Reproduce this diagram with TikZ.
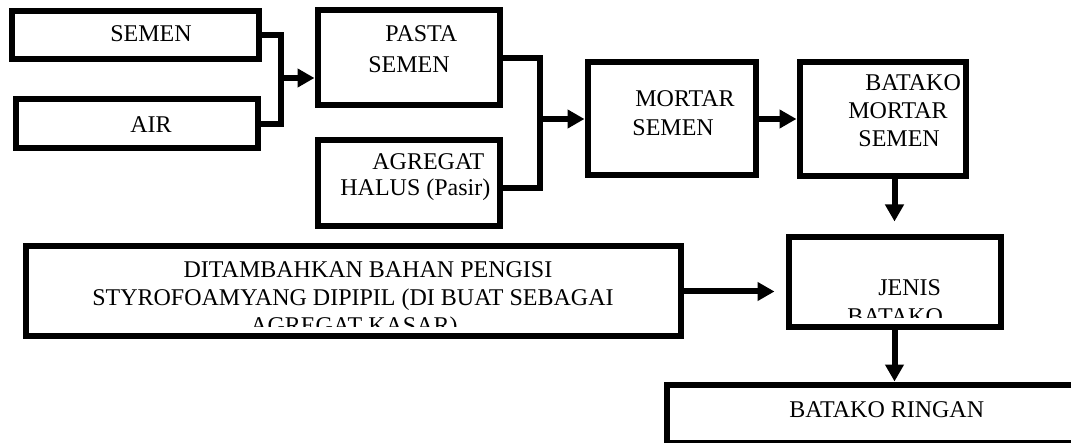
\documentclass[tikz,border=0pt]{standalone}
\usepackage{fontspec}
\setmainfont{Liberation Serif}
\usetikzlibrary{arrows.meta,positioning,calc}

\tikzset{
  box/.style={draw, line width=3pt, rectangle, inner sep=0pt},
  lbl/.style={inner sep=0pt, font=\fontsize{12}{14}\selectfont},
  link/.style={line width=3pt},
  flow/.style={line width=3pt, -{Triangle[length=8.5pt,width=9pt]}},
}

\begin{document}
\begin{tikzpicture}[x = .5pt, y = -.5pt]
  \clip (0,0) rectangle (1071,443);
  % boxes
  \node[box, minimum width=123.5pt, minimum height=24pt] (semen) at (135,35.5) {};
  \node[box, minimum width=121pt, minimum height=24.5pt] (air) at (136.5,124) {};
  \node[box, minimum width=91pt, minimum height=47.5pt] (pasta) at (408.5,58) {};
  \node[box, minimum width=91pt, minimum height=43pt] (agregat) at (408.5,183) {};
  \node[box, minimum width=84pt, minimum height=56.5pt] (mortar) at (671.5,119) {};
  \node[box, minimum width=83pt, minimum height=57pt] (batako) at (882.5,119.5) {};
  \node[box, minimum width=327.5pt, minimum height=45pt] (tambah) at (353,291.5) {};
  \node[box, minimum width=106pt, minimum height=45pt] (jenis) at (894.5,282.5) {};
  \node[box, minimum width=211.5pt, minimum height=29pt] (ringan) at (878,413.5) {};

  % texts
  \node[lbl, anchor=base west] (t-semen) at (110,42) {SEMEN};
  \node[lbl, anchor=base west] (t-air) at (130,133) {AIR};
  \node[lbl, anchor=base west] (t-pasta1) at (385,42) {PASTA};
  \node[lbl, anchor=base west] (t-pasta2) at (368,73) {SEMEN};
  \node[lbl, anchor=base west] (t-agregat1) at (372,170) {AGREGAT};
  \node[lbl, anchor=base west] (t-agregat2) at (340,196) {HALUS (Pasir)};
  \node[lbl, anchor=base west] (t-mortar1) at (635,107) {MORTAR};
  \node[lbl, anchor=base west] (t-mortar2) at (632,136) {SEMEN};
  \node[lbl, anchor=base west] (t-batako1) at (865,91) {BATAKO};
  \node[lbl, anchor=base west] (t-batako2) at (848,119) {MORTAR};
  \node[lbl, anchor=base west] (t-batako3) at (858,147) {SEMEN};
  \node[lbl, anchor=base west] (t-ringan) at (789,417) {BATAKO RINGAN};
  \begin{scope}
    \clip (28,249) rectangle (678,327);
    \node[lbl, anchor=base] (t-tambah1) at (368,278) {DITAMBAHKAN BAHAN PENGISI};
    \node[lbl, anchor=base] (t-tambah2) at (353,306) {STYROFOAMYANG DIPIPIL (DI BUAT SEBAGAI};
    \node[lbl, anchor=base] (t-tambah3) at (354,334) {AGREGAT KASAR)};
  \end{scope}
  \begin{scope}
    \clip (792,241) rectangle (997,318);
    \node[lbl, anchor=base west] (t-jenis1) at (878,296) {JENIS};
    \node[lbl, anchor=base west] (t-jenis2) at (847,324) {BATAKO};
  \end{scope}

  % connectors
  \coordinate (j1) at (281,78);
  \coordinate (j2) at (539.5,119);
  \coordinate (agr-out) at ([yshift=-2.5pt]agregat.east);
  \draw[link] (semen.east) -| (j1);
  \draw[link] (air.east) -| (j1);
  \draw[flow] (j1) -- (j1 -| pasta.west);
  \draw[link] (pasta.east) -| (j2);
  \draw[link] (agr-out) -| (j2);
  \draw[flow] (j2) -- (mortar.west);
  \draw[flow] (mortar.east) -- (mortar.east -| batako.west);
  \draw[flow, shorten >=6.5pt] (jenis.north |- batako.south) -- (jenis.north);
  \draw[flow, shorten >=5.5pt] (tambah.east) -- (tambah.east -| jenis.west);
  \draw[flow] (jenis.south) -- (jenis.south |- ringan.north);
\end{tikzpicture}
\end{document}
